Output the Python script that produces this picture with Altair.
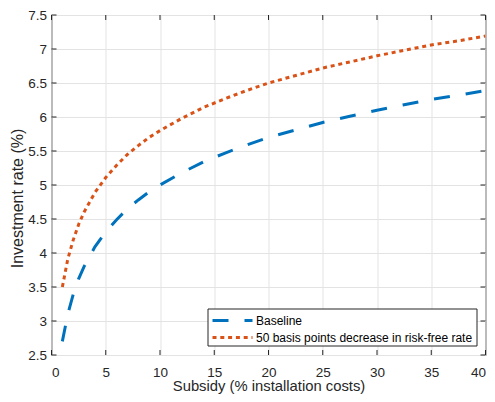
import altair as alt
import pandas as pd

# ---- data ----
subsidy = [1, 1.5, 2, 2.5, 3, 4, 5, 6, 7, 8, 9, 10, 12, 14, 16, 18, 20,
           22.5, 25, 27.5, 30, 32.5, 35, 37.5, 40]
baseline = [2.70, 3.10, 3.39, 3.62, 3.80, 4.09, 4.31, 4.49, 4.65, 4.78, 4.90,
            5.00, 5.18, 5.34, 5.47, 5.59, 5.70, 5.81, 5.92, 6.01, 6.10, 6.18,
            6.26, 6.32, 6.39]
lower_rf = [3.50, 3.91, 4.19, 4.42, 4.60, 4.89, 5.11, 5.29, 5.45, 5.58, 5.70,
            5.80, 5.98, 6.14, 6.27, 6.39, 6.50, 6.61, 6.72, 6.81, 6.90, 6.98,
            7.06, 7.12, 7.19]
series_names = ["Baseline", "50 basis points decrease in risk-free rate"]
series_colors = ["#0072BD", "#D95319"]
series_dashes = [[16, 16], [4, 3.8]]
x_ticks = [0, 5, 10, 15, 20, 25, 30, 35, 40]
y_ticks = [2.5, 3, 3.5, 4, 4.5, 5, 5.5, 6, 6.5, 7, 7.5]

rows = []
for name, vals in zip(series_names, [baseline, lower_rf]):
    for xv, yv in zip(subsidy, vals):
        rows.append({"Subsidy": xv, "Rate": yv, "Series": name})
df = pd.DataFrame(rows)

W, H = 434, 340
TICK = 5
AX = "#262626"
FONT = "Liberation Sans"
XT = "Subsidy (% installation costs)"
YT = "Investment rate (%)"

xs = alt.Scale(domain=[0, 40], nice=False, zero=False)
ys = alt.Scale(domain=[2.5, 7.5], nice=False, zero=False)

x_axis = alt.Axis(values=x_ticks, title=XT, grid=True, ticks=False, tickSize=0,
                  domain=False, labelPadding=10, titlePadding=0, format="~g",
                  labelFontSize=13.5, titleFontSize=14.8, labelOverlap=False)
y_axis = alt.Axis(values=y_ticks, title=YT, grid=True, ticks=False, tickSize=0,
                  domain=False, labelPadding=5, titlePadding=2, format="~g",
                  labelFontSize=13.5, titleFontSize=16, labelOverlap=False,
                  titleY=183)

lines = alt.Chart(df).mark_line(strokeWidth=3, strokeCap="butt", clip=True).encode(
    x=alt.X("Subsidy:Q", scale=xs, axis=x_axis),
    y=alt.Y("Rate:Q", scale=ys, axis=y_axis),
    color=alt.Color("Series:N",
                    scale=alt.Scale(domain=series_names, range=series_colors),
                    legend=None),
    strokeDash=alt.StrokeDash("Series:N",
                              scale=alt.Scale(domain=series_names, range=series_dashes),
                              legend=None),
)

xt_df = pd.DataFrame({"t": x_ticks})
yt_df = pd.DataFrame({"t": y_ticks})

bottom_ticks = alt.Chart(xt_df).mark_rule(color=AX, strokeWidth=1).encode(
    x=alt.X("t:Q", scale=xs, axis=x_axis), y=alt.value(H), y2=alt.value(H - TICK))
top_ticks = alt.Chart(xt_df).mark_rule(color=AX, strokeWidth=1).encode(
    x=alt.X("t:Q", scale=xs, axis=x_axis), y=alt.value(0), y2=alt.value(TICK))
left_ticks = alt.Chart(yt_df).mark_rule(color=AX, strokeWidth=1).encode(
    y=alt.Y("t:Q", scale=ys, axis=y_axis), x=alt.value(0), x2=alt.value(TICK))
right_ticks = alt.Chart(yt_df).mark_rule(color=AX, strokeWidth=1).encode(
    y=alt.Y("t:Q", scale=ys, axis=y_axis), x=alt.value(W), x2=alt.value(W - TICK))

# ---- hand-built legend (box, sample lines, labels) ----
LX0, LX1, LY0, LY1 = 156.5, 425.5, 294, 331
SX0, SX1, TX = 161, 201, 204.5
ROW_Y = [305.5, 322.5]

legend_layers = [
    alt.Chart(pd.DataFrame({"k": [0]})).mark_rect(
        fill="white", stroke=AX, strokeWidth=1).encode(
        x=alt.value(LX0), x2=alt.value(LX1), y=alt.value(LY0), y2=alt.value(LY1))
]
for i, name in enumerate(series_names):
    one = pd.DataFrame({"label": [name]})
    legend_layers.append(
        alt.Chart(one).mark_rule(color=series_colors[i], strokeWidth=3,
                                 strokeDash=series_dashes[i], strokeCap="butt").encode(
            x=alt.value(SX0), x2=alt.value(SX1), y=alt.value(ROW_Y[i])))
    legend_layers.append(
        alt.Chart(one).mark_text(align="left", baseline="middle", font=FONT,
                                 fontSize=12, color="#000000").encode(
            text="label:N", x=alt.value(TX), y=alt.value(ROW_Y[i])))

chart = alt.layer(lines, bottom_ticks, top_ticks, left_ticks, right_ticks,
                  *legend_layers).properties(
    width=W, height=H,
    autosize=alt.AutoSizeParams(type="none"),
    padding={"left": 43.5, "top": 7, "right": 1, "bottom": 39},
).configure_view(
    stroke=AX, strokeWidth=1
).configure_axis(
    labelFont=FONT, titleFont=FONT,
    labelColor=AX, titleColor=AX, titleFontWeight="normal",
    gridColor="#e3e3e3", gridWidth=1, labelOverlap=False,
)

chart.save("out.html", embed_options={"renderer": "svg", "actions": False})
